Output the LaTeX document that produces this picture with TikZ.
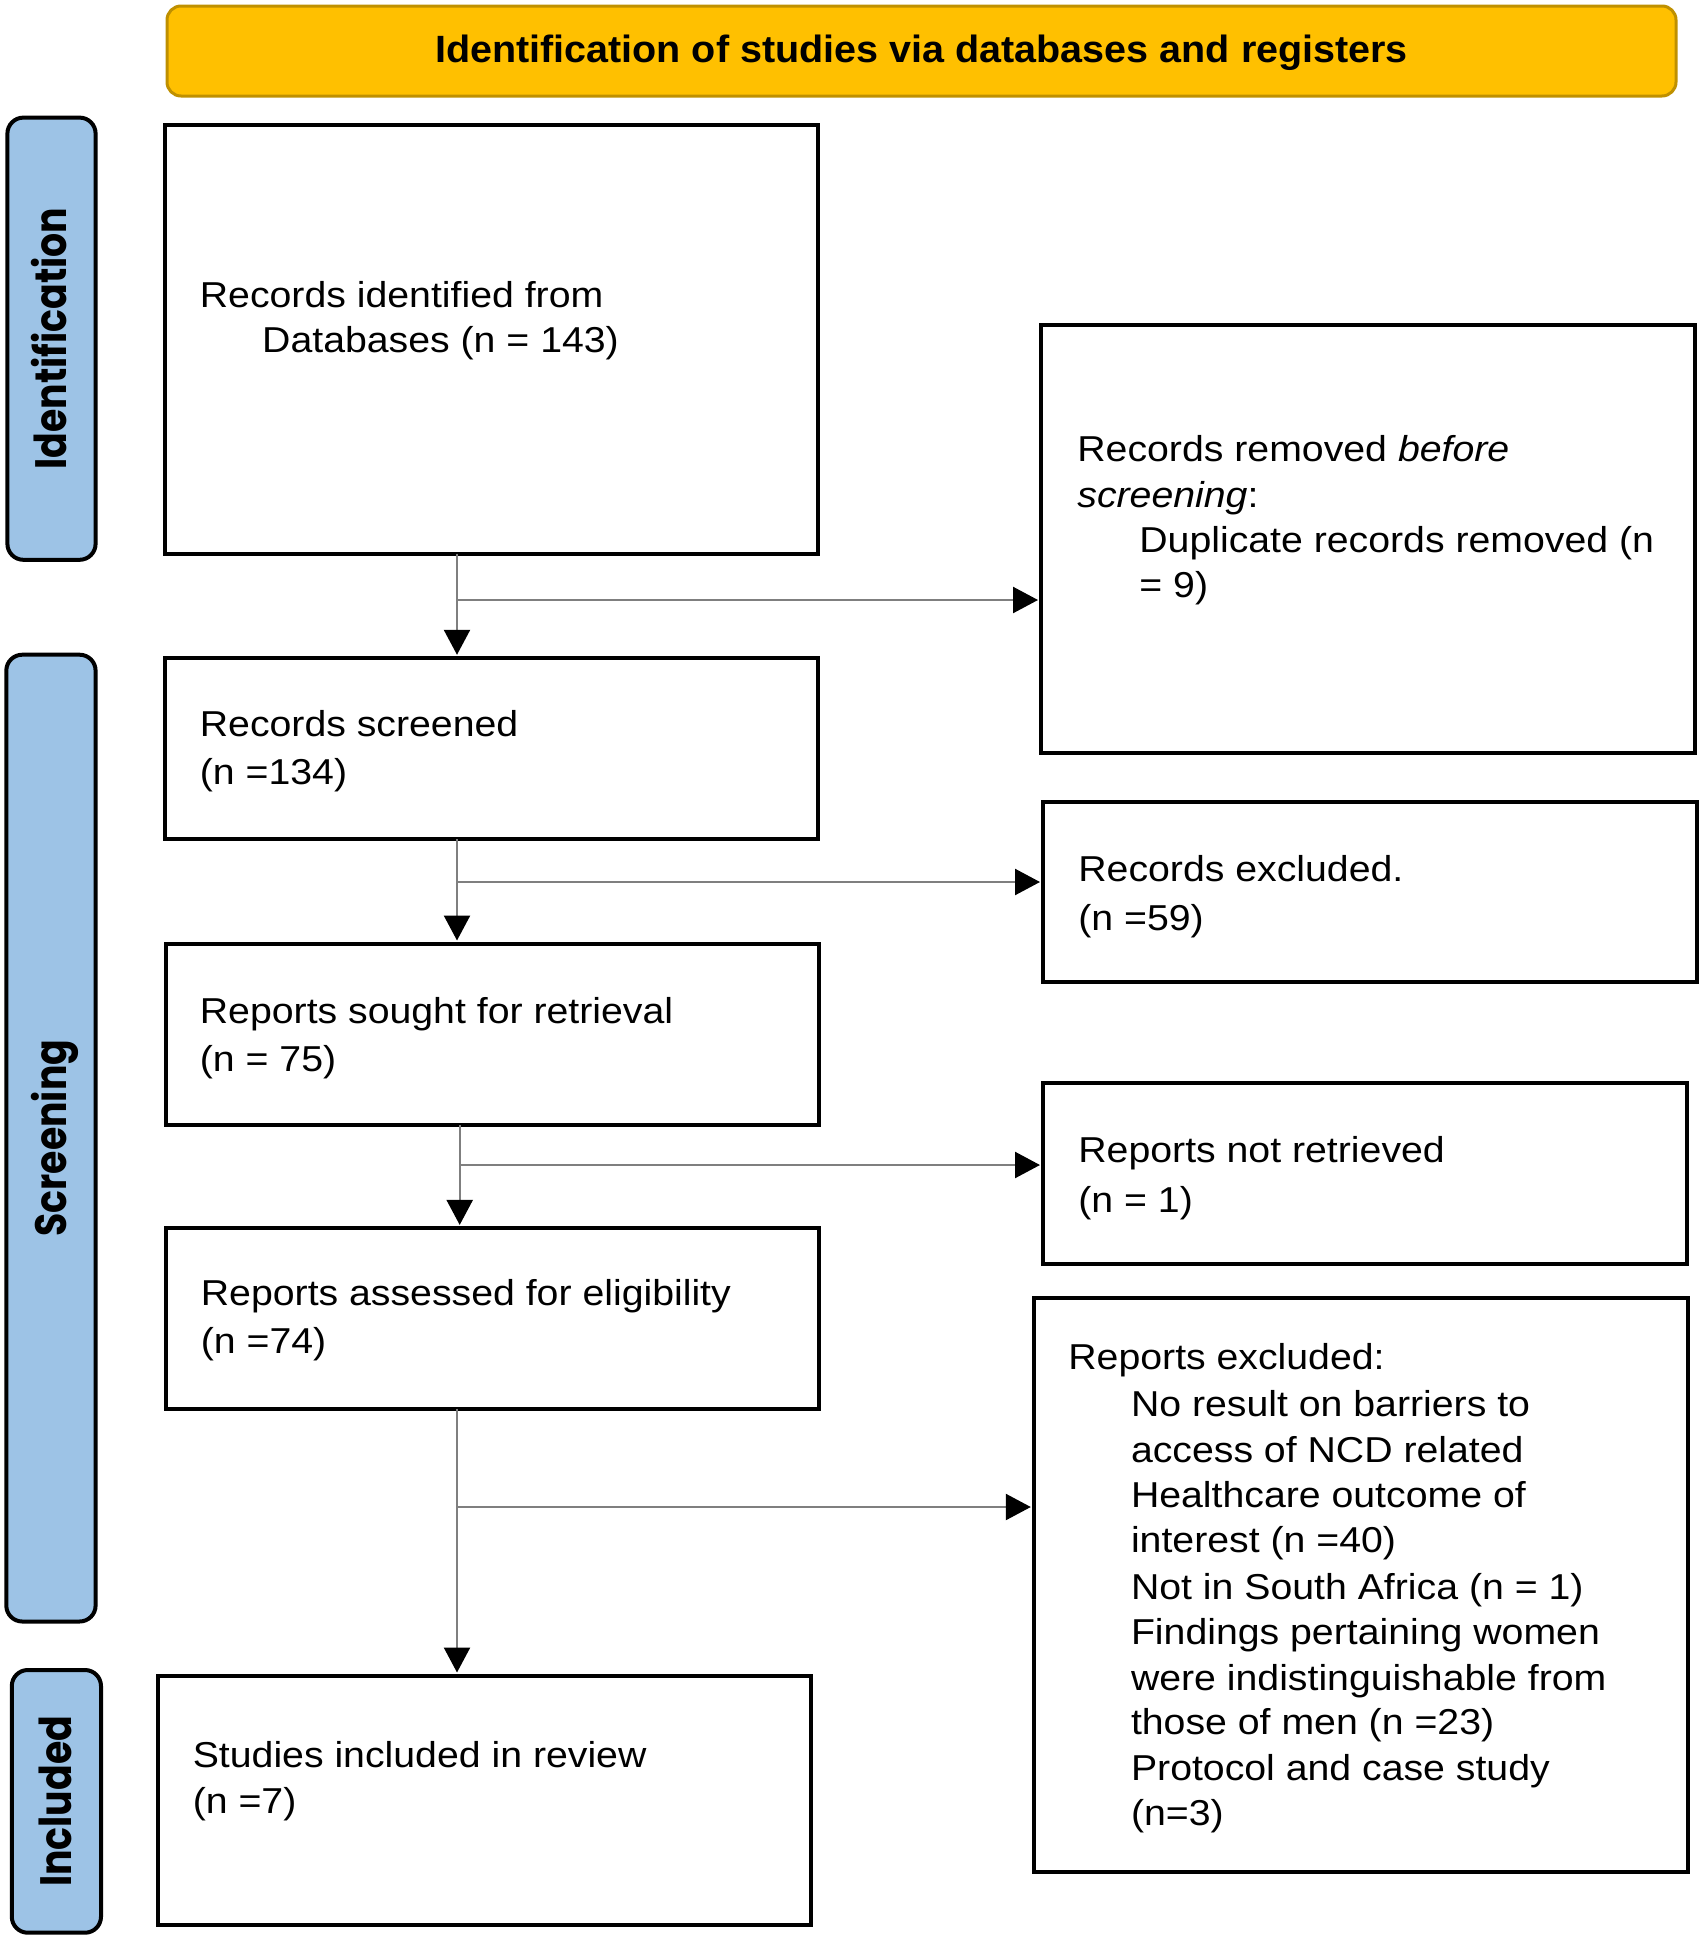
\documentclass[tikz,border=0pt]{standalone}
\usepackage{fontspec}
\setmainfont{Liberation Sans}
\newfontfamily\bodyfont{Liberation Sans}[FakeStretch=1.09]
\newfontfamily\headfont{Liberation Sans}[FakeStretch=1.04]
\newfontfamily\sidefont{Poppins}[FakeStretch=0.86]
\usetikzlibrary{arrows.meta}
\definecolor{hdrfill}{HTML}{FFC000}
\definecolor{hdrline}{HTML}{BF9000}
\definecolor{sidefill}{HTML}{9DC3E6}
\definecolor{connline}{HTML}{7F7F7F}
\newcommand\mkbox[6]{\node[#6, minimum width={(#4-#2-4)*0.5pt}, minimum height={(#5-#3-4)*0.5pt}] (#1) at ({(#2+#4)/2},{(#3+#5)/2}) {};}
\tikzset{
  box/.style={draw=black, line width=2pt, fill=white, inner sep=0pt, outer sep=0pt},
  side/.style={draw=black, line width=2pt, fill=sidefill, rounded corners=8pt, inner sep=0pt, outer sep=0pt},
  hdr/.style={draw=hdrline, line width=1.5pt, fill=hdrfill, rounded corners=7pt, inner sep=0pt, outer sep=0pt},
  txt/.style={anchor=base west, inner sep=0pt, font=\bodyfont\fontsize{18}{23}\selectfont},
  sidetxt/.style={rotate=90, inner sep=0pt, font=\sidefont\bfseries\fontsize{22}{26}\selectfont, text height=15.4pt, text depth=0pt},
  hdrtxt/.style={inner sep=0pt, font=\headfont\bfseries\fontsize{19}{23}\selectfont, text height=13.6pt, text depth=0pt},
  conn/.style={draw=connline, line width=1.2pt},
  arr/.style={conn, -{Triangle[length=12.5pt, width=13pt, color=black]}, shorten >=1.5pt}
}
\begin{document}
\begin{tikzpicture}[x=0.5pt,y=-0.5pt]
\useasboundingbox (0,0) rectangle (1701,1938);
% header and side bars
\mkbox{h}{165}{4}{1678}{98}{hdr}
\node[hdrtxt] (htxt) at ([yshift=1pt]h.center) {Identification of studies via databases and registers};
\mkbox{s1}{5.4}{115.6}{97.6}{561.8}{side}
\mkbox{s2}{4.3}{652.7}{97.6}{1623.5}{side}
\mkbox{s3}{9.8}{1668}{103}{1934.7}{side}
\node[sidetxt] (s1t) at (s1.center) {Identification};
\node[sidetxt] (s2t) at (s2.center) {Screening};
\node[sidetxt] (s3t) at (s3.center) {Included};
% boxes
\mkbox{b1}{162.6}{122.5}{819.6}{555.7}{box}
\mkbox{b2}{1039}{322.6}{1697}{755.4}{box}
\mkbox{b3}{162.6}{655.8}{819.6}{841}{box}
\mkbox{b4}{164.3}{941.5}{821.3}{1126.8}{box}
\mkbox{b5}{164.3}{1225.9}{821.3}{1410.7}{box}
\mkbox{b6}{156}{1673.5}{813}{1926.6}{box}
\mkbox{e1}{1041}{800}{1699.4}{984}{box}
\mkbox{e2}{1041}{1080.8}{1688.5}{1266}{box}
\mkbox{e3}{1031.8}{1296.4}{1689.6}{1873.7}{box}
% texts
\node[txt] (t1a) at (199.5,307) {Records identified from};
\node[txt] (t1b) at (261.8,352) {Databases (n = 143)};
\node[txt] (t2a) at (1077,461) {Records removed \textit{before}};
\node[txt] (t2b) at (1077,507) {\textit{screening}:};
\node[txt] (t2c) at (1139,552) {Duplicate records removed (n};
\node[txt] (t2d) at (1139,597) {= 9)};
\node[txt] (t3a) at (199.5,736) {Records screened};
\node[txt] (t3b) at (199.5,784) {(n =134)};
\node[txt] (te1a) at (1078,881) {Records excluded.};
\node[txt] (te1b) at (1078,930) {(n =59)};
\node[txt] (t4a) at (199.5,1023) {Reports sought for retrieval};
\node[txt] (t4b) at (199.5,1071) {(n = 75)};
\node[txt] (te2a) at (1078,1162) {Reports not retrieved};
\node[txt] (te2b) at (1078,1212.5) {(n = 1)};
\node[txt] (t5a) at (200.5,1305) {Reports assessed for eligibility};
\node[txt] (t5b) at (200.5,1353) {(n =74)};
\node[txt] (t6a) at (192.4,1767) {Studies included in review};
\node[txt] (t6b) at (192.4,1813.5) {(n =7)};
\node[txt] (te3a) at (1068,1369) {Reports excluded:};
\node[txt] (te3b) at (1130.6,1416) {No result on barriers to};
\node[txt] (te3c) at (1130.6,1462) {access of NCD related};
\node[txt] (te3d) at (1130.6,1507.5) {Healthcare outcome of};
\node[txt] (te3e) at (1130.6,1552) {interest (n =40)};
\node[txt] (te3f) at (1130.6,1599) {Not in South Africa (n = 1)};
\node[txt] (te3g) at (1130.6,1644) {Findings pertaining women};
\node[txt] (te3h) at (1130.6,1690.6) {were indistinguishable from};
\node[txt] (te3i) at (1130.6,1734.5) {those of men (n =23)};
\node[txt] (te3j) at (1130.6,1780) {Protocol and case study};
\node[txt] (te3k) at (1130.6,1825) {(n=3)};
% junctions
\coordinate (j1) at (457,600);
\coordinate (j2) at (457,882);
\coordinate (j3) at (459.7,1165);
\coordinate (j4) at (457,1507);
% connectors
\draw[arr] (b1.south -| j1) -- (b3.north -| j1);
\draw[arr] (j1) -- (j1 -| b2.west);
\draw[arr] (b3.south -| j2) -- (b4.north -| j2);
\draw[arr] (j2) -- (j2 -| e1.west);
\draw[arr] (b4.south -| j3) -- (b5.north -| j3);
\draw[arr] (j3) -- (j3 -| e2.west);
\draw[arr] (b5.south -| j4) -- (b6.north -| j4);
\draw[arr] (j4) -- (j4 -| e3.west);
\end{tikzpicture}
\end{document}
